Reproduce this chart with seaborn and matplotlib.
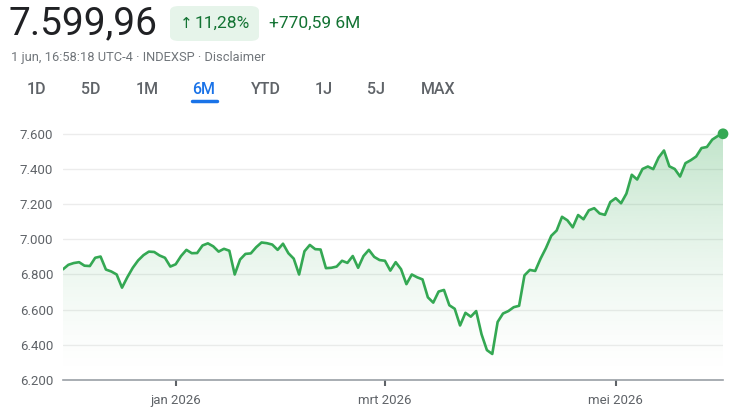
import numpy as np
import pandas as pd
import matplotlib
matplotlib.use("Agg")
import matplotlib.pyplot as plt
from matplotlib.patches import FancyBboxPatch
import seaborn as sns

# ── Data ──────────────────────────────────────────────────────────────
START_DATE = "2025-12-02"
END_DATE = "2026-06-01"
HOLIDAYS = ["2025-12-25", "2026-01-01", "2026-01-19", "2026-02-16",
            "2026-04-03", "2026-05-25"]

# daily closes (one per trading day)
CLOSES = [
    6829.37, 6855, 6865, 6870, 6850, 6848, 6895, 6902, 6828, 6817,   # dec
    6800, 6725, 6785, 6838, 6880, 6910, 6930, 6928, 6908, 6895, 6845,
    6858, 6905, 6940, 6921, 6922, 6965, 6977, 6960, 6930, 6946,       # jan
    6935, 6800, 6885, 6917, 6920, 6955, 6982, 6978, 6970, 6940,
    6975, 6921, 6890, 6800, 6932, 6968, 6944, 6942, 6836, 6838,       # feb
    6845, 6878, 6866, 6905, 6838, 6905, 6940, 6900, 6882,
    6878, 6822, 6870, 6830, 6745, 6800, 6784, 6772, 6670, 6640,       # mrt
    6703, 6712, 6625, 6605, 6510, 6582, 6560, 6592, 6460, 6370, 6348, 6530,
    6578, 6592, 6614, 6622, 6795, 6826, 6820, 6890, 6950, 7020,       # apr
    7050, 7128, 7108, 7068, 7138, 7114, 7165, 7177, 7147, 7139, 7212,
    7234, 7205, 7260, 7367, 7340, 7400, 7414, 7399, 7465, 7505,       # mei
    7415, 7400, 7357, 7433, 7450, 7471, 7519, 7525, 7567, 7587,
    7599.96,                                                          # jun
]

Y_TICKS = [6200, 6400, 6600, 6800, 7000, 7200, 7400, 7600]
MONTH_LABELS = {1: "jan 2026", 3: "mrt 2026", 5: "mei 2026"}
PERIODS = ["1D", "5D", "1M", "6M", "YTD", "1J", "5J", "MAX"]
ACTIVE_PERIOD = "6M"
SUBTITLE = "1 jun, 16:58:18 UTC-4 · INDEXSP · Disclaimer"

# ── Style ─────────────────────────────────────────────────────────────
GREEN = "#34a853"
DARK_GREEN = "#137333"
BLUE = "#1a73e8"
TEXT = "#202124"
GREY = "#5f6368"
W, H = 746, 419

sns.set_style("white")
plt.rcParams["font.family"] = ["Roboto", "DejaVu Sans"]


def nl_number(v, dec=2):
    s = f"{v:,.{dec}f}"
    return s.replace(",", "X").replace(".", ",").replace("X", ".")


dates = pd.bdate_range(START_DATE, END_DATE, freq="C", holidays=HOLIDAYS)
df = pd.DataFrame({"date": dates, "close": CLOSES})
df["pos"] = np.arange(len(df))

first, last = df["close"].iloc[0], df["close"].iloc[-1]
change = last - first
pct = change / first * 100

fig = plt.figure(figsize=(W / 100, H / 100), dpi=100)

# ── Chart area ────────────────────────────────────────────────────────
ytop = 7650
ax = fig.add_axes([63 / W, 1 - 380 / H, 660 / W, (380 - 125) / H])
sns.lineplot(data=df, x="pos", y="close", ax=ax, color=GREEN, lw=1.9,
             zorder=3)
ax.set_xlim(0, len(df) - 1)
ax.set_ylim(Y_TICKS[0], ytop)

# gradient fill under the line
poly = ax.fill_between(df["pos"], df["close"], Y_TICKS[0], color="none",
                       lw=0)
t = np.linspace(0, 1, 256).reshape(-1, 1)
rgba = np.zeros((256, 1, 4))
rgba[..., :3] = matplotlib.colors.to_rgb(GREEN)
rgba[..., 3] = 0.32 * t ** 1.5
img = ax.imshow(rgba, extent=[0, len(df) - 1, Y_TICKS[0], ytop],
                origin="lower", aspect="auto", zorder=1)
img.set_clip_path(poly.get_paths()[0], transform=ax.transData)

ax.scatter([df["pos"].iloc[-1]], [last], s=60, color=GREEN, zorder=4,
           clip_on=False, edgecolor="none")

ax.set_yticks(Y_TICKS)
ax.set_yticklabels([nl_number(v, 0) for v in Y_TICKS])
ax.yaxis.grid(True, color="#ececec", lw=1)
ax.set_axisbelow(True)

tick_pos = [df.index[df["date"].dt.month == m][0] for m in MONTH_LABELS]
ax.set_xticks(tick_pos)
ax.set_xticklabels(list(MONTH_LABELS.values()))

ax.tick_params(axis="y", length=0, pad=7, labelsize=9.5, labelcolor=GREY)
ax.tick_params(axis="x", length=4, width=1.5, color=GREY, pad=6,
               labelsize=9.5, labelcolor=GREY, bottom=True)
ax.set_xlabel("")
ax.set_ylabel("")
for side in ["top", "right", "left"]:
    ax.spines[side].set_visible(False)
ax.spines["bottom"].set_color("#9aa0a6")
ax.spines["bottom"].set_linewidth(1.2)

# ── Header ────────────────────────────────────────────────────────────
fig.text(9 / W, 1 - 24 / H, nl_number(last), fontsize=28, color=TEXT,
         va="center", ha="left")

badge = FancyBboxPatch((170 / W, 1 - 41 / H), 89 / W, 35 / H,
                       boxstyle="round,pad=0,rounding_size=0.012",
                       transform=fig.transFigure, facecolor="#e6f4ea",
                       edgecolor="none")
fig.patches.append(badge)
fig.text(180 / W, 1 - 23 / H, "↑", fontsize=11, color=DARK_GREEN,
         va="center", ha="left", family=["DejaVu Sans"])
fig.text(195 / W, 1 - 23 / H, nl_number(pct) + "%", fontsize=12.5,
         color=DARK_GREEN, va="center", ha="left")
fig.text(269 / W, 1 - 23 / H, "+" + nl_number(change) + " 6M",
         fontsize=12.5, color=DARK_GREEN, va="center", ha="left")

fig.text(11 / W, 1 - 58 / H, SUBTITLE, fontsize=9.3, color="#70757a",
         va="center", ha="left")

tab_x = [37, 91, 147, 204, 266, 324, 376, 438]
for label, x in zip(PERIODS, tab_x):
    active = label == ACTIVE_PERIOD
    fig.text(x / W, 1 - 89 / H, label, fontsize=11.5,
             color=BLUE if active else GREY, va="center", ha="center",
             fontweight="medium")
    if active:
        fig.add_artist(plt.Line2D([(x - 12) / W, (x + 13) / W],
                                  [1 - 100.5 / H, 1 - 100.5 / H],
                                  color=BLUE, lw=2.5,
                                  solid_capstyle="round"))

fig.savefig("out.png", dpi=100)
